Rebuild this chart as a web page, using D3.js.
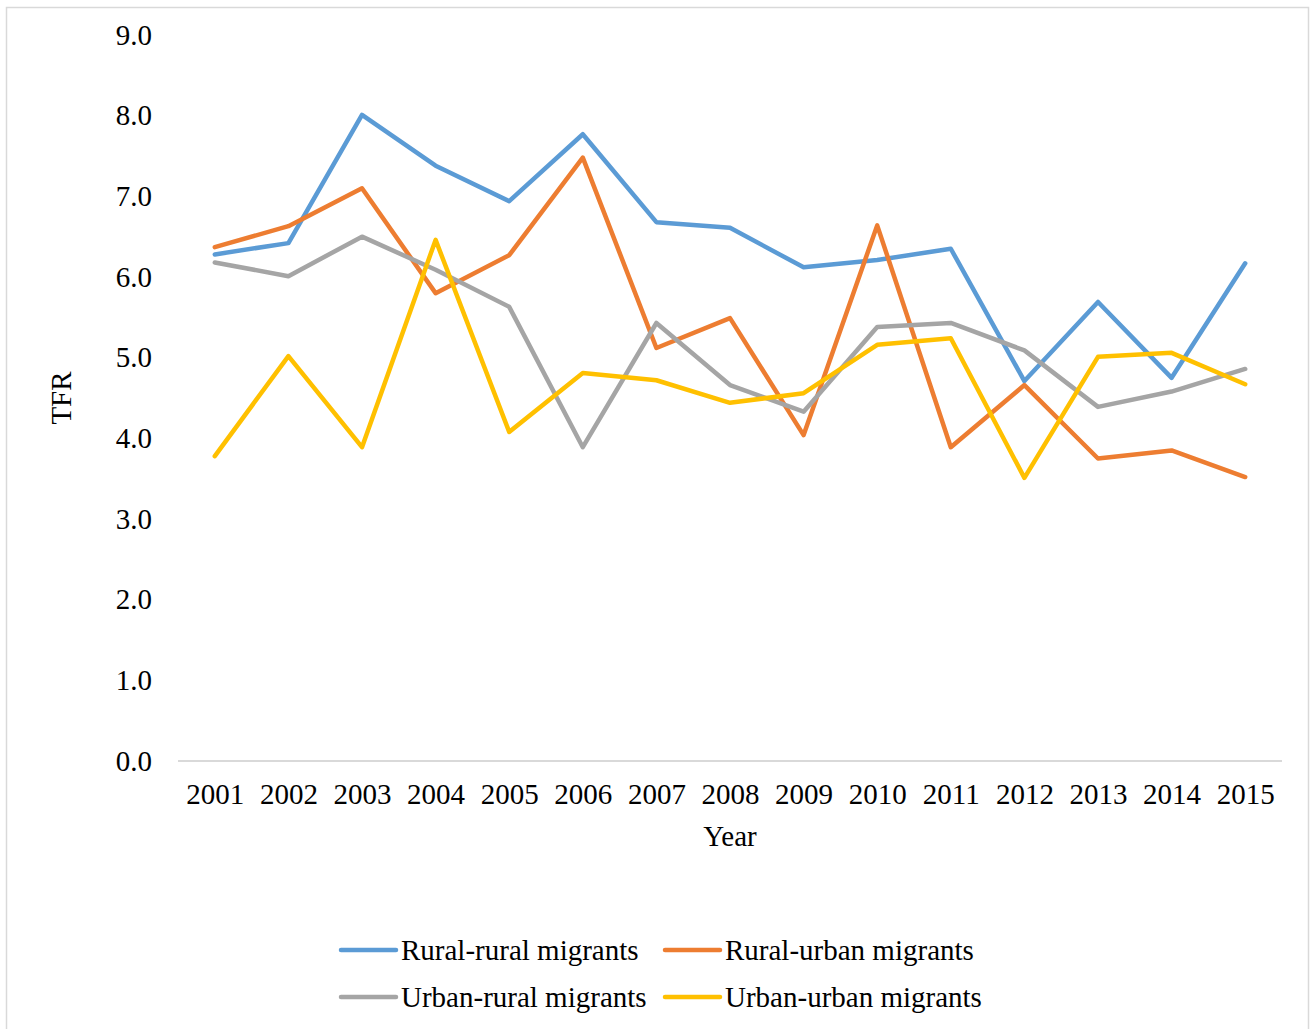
<!DOCTYPE html>
<html>
<head>
<meta charset="utf-8">
<script src="https://cdn.jsdelivr.net/npm/d3@7"></script>
<style>
  body { margin: 0; background: #fff; }
  text { font-family: "Liberation Serif", "Times New Roman", serif; fill: #000; }
</style>
</head>
<body>
<div id="chart"></div>
<script>
// ----- Data -----
const years = ["2001", "2002", "2003", "2004", "2005", "2006", "2007", "2008",
  "2009", "2010", "2011", "2012", "2013", "2014", "2015"];

const ruralRural = [6.28, 6.42, 8.01, 7.38, 6.94, 7.77, 6.68, 6.61, 6.12, 6.21, 6.35, 4.71, 5.69, 4.75, 6.17];
const ruralUrban = [6.37, 6.63, 7.10, 5.80, 6.27, 7.48, 5.12, 5.49, 4.04, 6.64, 3.89, 4.66, 3.75, 3.85, 3.52];
const urbanRural = [6.18, 6.01, 6.50, 6.09, 5.63, 3.89, 5.43, 4.66, 4.33, 5.38, 5.43, 5.09, 4.39, 4.58, 4.86];
const urbanUrban = [3.78, 5.02, 3.89, 6.46, 4.08, 4.81, 4.72, 4.44, 4.56, 5.16, 5.24, 3.51, 5.01, 5.06, 4.67];

const yTicks = [0, 1, 2, 3, 4, 5, 6, 7, 8, 9];

const series = [
  { name: "Rural-rural migrants", values: ruralRural, color: "#5B9BD5" },
  { name: "Rural-urban migrants", values: ruralUrban, color: "#ED7D31" },
  { name: "Urban-rural migrants", values: urbanRural, color: "#A5A5A5" },
  { name: "Urban-urban migrants", values: urbanUrban, color: "#FFC000" }
];

// ----- Config -----
const width = 1312;
const height = 1029;
const plot = { left: 178, right: 1282, top: 35, bottom: 761 };
const fontSize = 29;

const svg = d3.select("#chart")
  .append("svg")
  .attr("width", width)
  .attr("height", height);

// outer chart border
svg.append("rect")
  .attr("x", 6.5).attr("y", 7.5)
  .attr("width", 1302).attr("height", 1040)
  .attr("fill", "#fff")
  .attr("stroke", "#D9D9D9")
  .attr("stroke-width", 1.5);

const x = d3.scalePoint()
  .domain(years)
  .range([plot.left, plot.right])
  .padding(0.5);

const y = d3.scaleLinear()
  .domain([0, 9])
  .range([plot.bottom, plot.top]);

// ----- Axes -----
const yAxis = svg.append("g")
  .attr("transform", `translate(${plot.left},0)`)
  .call(d3.axisLeft(y).tickValues(yTicks).tickFormat(d3.format(".1f")).tickSize(0).tickPadding(26));
yAxis.select(".domain").remove();
yAxis.selectAll("text")
  .attr("font-size", fontSize)
  .attr("font-family", "Liberation Serif");

const xAxis = svg.append("g")
  .attr("transform", `translate(0,${plot.bottom})`)
  .call(d3.axisBottom(x).tickSize(0).tickPadding(22));
xAxis.select(".domain")
  .attr("stroke", "#D9D9D9")
  .attr("stroke-width", 2)
  .attr("d", `M${plot.left},0H${plot.right}`);
xAxis.selectAll("text")
  .attr("font-size", fontSize)
  .attr("font-family", "Liberation Serif");

// axis titles
svg.append("text")
  .attr("x", (plot.left + plot.right) / 2)
  .attr("y", 846)
  .attr("text-anchor", "middle")
  .attr("font-size", fontSize)
  .text("Year");

svg.append("text")
  .attr("transform", `translate(71,${(plot.top + plot.bottom) / 2}) rotate(-90)`)
  .attr("text-anchor", "middle")
  .attr("font-size", fontSize)
  .text("TFR");

// ----- Lines -----
const line = d3.line()
  .x((d, i) => x(years[i]))
  .y(d => y(d));

svg.append("g")
  .selectAll("path")
  .data(series)
  .join("path")
  .attr("d", d => line(d.values))
  .attr("fill", "none")
  .attr("stroke", d => d.color)
  .attr("stroke-width", 4.5)
  .attr("stroke-linejoin", "round")
  .attr("stroke-linecap", "round");

// ----- Legend -----
const legendPos = [
  { x: 341, y: 950 },
  { x: 665, y: 950 },
  { x: 341, y: 997 },
  { x: 665, y: 997 }
];

const legend = svg.append("g")
  .selectAll("g")
  .data(series)
  .join("g")
  .attr("transform", (d, i) => `translate(${legendPos[i].x},${legendPos[i].y})`);

legend.append("line")
  .attr("x1", 0).attr("x2", 55)
  .attr("stroke", d => d.color)
  .attr("stroke-width", 4.5)
  .attr("stroke-linecap", "round");

legend.append("text")
  .attr("x", 60)
  .attr("dy", "0.35em")
  .attr("font-size", fontSize)
  .text(d => d.name);
</script>
</body>
</html>
